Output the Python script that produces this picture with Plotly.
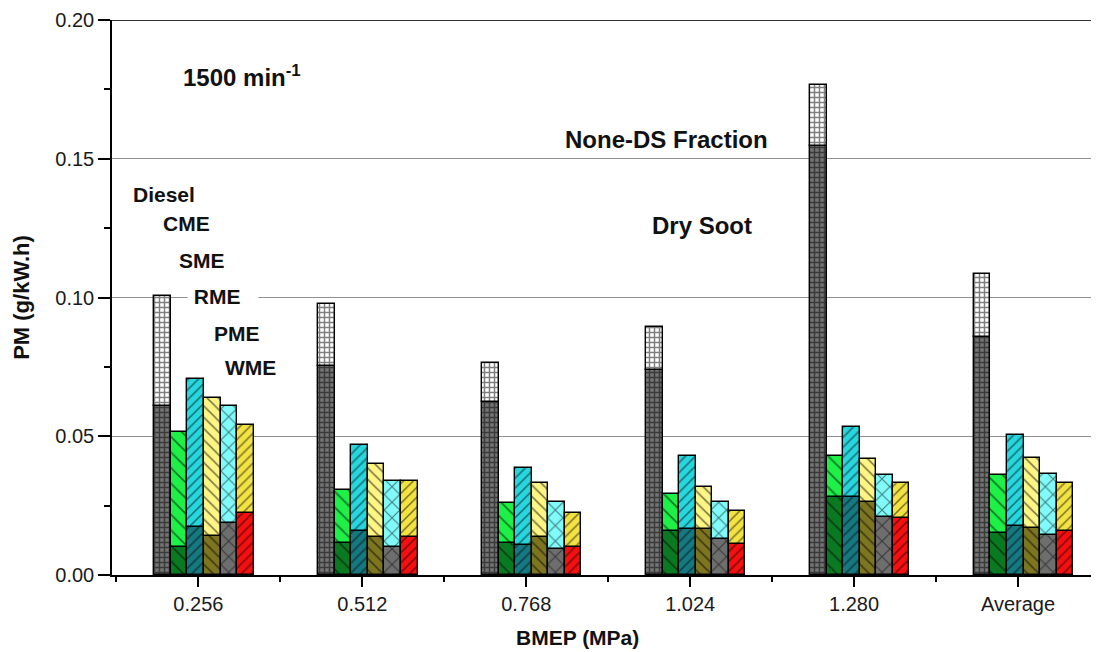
import plotly.graph_objects as go

categories = ["0.256", "0.512", "0.768", "1.024", "1.280", "Average"]
fuels = ["Diesel", "CME", "SME", "RME", "PME", "WME"]

# total PM (Dry Soot + None-DS Fraction), g/kW.h
total_diesel = [0.1007, 0.0975, 0.0765, 0.0893, 0.1765, 0.1083]
total_cme = [0.0516, 0.0308, 0.0258, 0.0293, 0.0428, 0.0362]
total_sme = [0.0706, 0.0470, 0.0386, 0.0429, 0.0534, 0.0504]
total_rme = [0.0639, 0.0399, 0.0330, 0.0317, 0.0418, 0.0423]
total_pme = [0.0609, 0.0337, 0.0264, 0.0263, 0.0359, 0.0363]
total_wme = [0.0540, 0.0339, 0.0222, 0.0229, 0.0333, 0.0333]

# Dry Soot portion
dry_diesel = [0.0608, 0.0752, 0.0624, 0.0740, 0.1547, 0.0857]
dry_cme = [0.0102, 0.0116, 0.0114, 0.0159, 0.0282, 0.0153]
dry_sme = [0.0174, 0.0157, 0.0108, 0.0164, 0.0282, 0.0176]
dry_rme = [0.0141, 0.0136, 0.0138, 0.0164, 0.0264, 0.0170]
dry_pme = [0.0188, 0.0100, 0.0094, 0.0128, 0.0210, 0.0144]
dry_wme = [0.0222, 0.0136, 0.0100, 0.0112, 0.0206, 0.0159]

totals = [total_diesel, total_cme, total_sme, total_rme, total_pme, total_wme]
drys = [dry_diesel, dry_cme, dry_sme, dry_rme, dry_pme, dry_wme]

# styles: (top colour, bottom colour, pattern shape, pattern size, solidity)
styles = [
    ("#ffffff", "#747474", "+", 5, 0.5),
    ("#1ef048", "#0a7a22", "\\", 11, 0.15),
    ("#28d6de", "#167880", "/", 7, 0.22),
    ("#fff585", "#7d7520", "\\", 8, 0.2),
    ("#80fafa", "#6e6e6e", "x", 11, 0.18),
    ("#f2e244", "#f41010", "/", 7, 0.22),
]

bar_w = 0.101
first_offset = -0.269

xpos = list(range(len(categories)))
fig = go.Figure()
for j, fuel in enumerate(fuels):
    top_c, bot_c, shp, sz, sol = styles[j]
    dry = drys[j]
    tot = totals[j]
    nonds = [t - d for t, d in zip(tot, dry)]
    off = first_offset + j * bar_w
    fig.add_trace(go.Bar(
        x=xpos, y=dry, base=0, width=bar_w, offset=off,
        name=fuel + " Dry Soot",
        marker=dict(color=bot_c, line=dict(color="black", width=1.4),
                    pattern=dict(shape=shp, size=sz, solidity=sol,
                                 fgcolor="black", bgcolor=bot_c, fillmode="overlay")),
        showlegend=False))
    fig.add_trace(go.Bar(
        x=xpos, y=nonds, base=dry, width=bar_w, offset=off,
        name=fuel + " None-DS Fraction",
        marker=dict(color=top_c, line=dict(color="black", width=1.4),
                    pattern=dict(shape=shp, size=sz, solidity=sol,
                                 fgcolor="black", bgcolor=top_c, fillmode="overlay")),
        showlegend=False))

ann_font = dict(family="Liberation Sans, Arial, sans-serif", size=21, color="#111111")
big_font = dict(family="Liberation Sans, Arial, sans-serif", size=24, color="#111111")

annotations = [
    dict(x=-0.106, y=0.180, text="<b>1500 min<sup>-1</sup></b>", xanchor="left", font=big_font),
    dict(x=2.853, y=0.157, text="<b>None-DS Fraction</b>", xanchor="center", font=big_font),
    dict(x=3.073, y=0.126, text="<b>Dry Soot</b>", xanchor="center", font=big_font),
    dict(x=-0.411, y=0.137, text="<b>Diesel</b>", xanchor="left", font=ann_font),
    dict(x=-0.228, y=0.1265, text="<b>CME</b>", xanchor="left", font=ann_font),
    dict(x=-0.130, y=0.1135, text="<b>SME</b>", xanchor="left", font=ann_font),
    dict(x=-0.070, y=0.1005, text="<b> RME   </b>", xanchor="left", font=ann_font,
         bgcolor="white", borderpad=0),
    dict(x=0.083, y=0.0872, text="<b>PME</b>", xanchor="left", font=ann_font),
    dict(x=0.150, y=0.0746, text="<b>WME</b>", xanchor="left", font=ann_font),
]
for a in annotations:
    a.update(xref="x", yref="y", showarrow=False, yanchor="middle")

# x-axis title (placed left of centre as in the original)
annotations.append(dict(xref="paper", yref="paper", x=0.472, y=0, yshift=-62,
                        xanchor="center", yanchor="middle", showarrow=False,
                        text="<b>BMEP (MPa)</b>",
                        font=dict(family="Liberation Sans, Arial, sans-serif", size=21,
                                  color="#111111")))

# page body adds an 8px margin; figure sized/margined to compensate
fig.update_layout(
    width=1091, height=644,
    margin=dict(l=104, r=0, t=12, b=77, autoexpand=False),
    paper_bgcolor="white", plot_bgcolor="white",
    barmode="overlay", bargap=0,
    annotations=annotations,
    font=dict(family="Liberation Sans, Arial, sans-serif", size=20, color="#1a1a1a"),
    shapes=[dict(type="line", xref="paper", yref="y", x0=0, x1=1, y0=0.2, y1=0.2,
                 line=dict(color="#333333", width=2), layer="above")],
)
fig.update_xaxes(
    type="linear", range=[-0.527, 5.494],
    tickmode="array", tickvals=xpos, ticktext=categories,
    ticks="outside", ticklen=10, tickwidth=1.5, tickcolor="black",
    showline=True, linecolor="black", linewidth=1.5,
    showgrid=False, zeroline=False,
    tickfont=dict(size=20, color="#1a1a1a"),
    minor=dict(tickmode="array", tickvals=[x + 0.5 for x in xpos[:-1]] + [-0.5],
               ticks="outside", ticklen=5, tickwidth=1.5, tickcolor="black", showgrid=False),
)
fig.update_yaxes(
    range=[0, 0.2], tickmode="linear", tick0=0, dtick=0.05, tickformat=".2f",
    ticks="outside", ticklen=12, tickwidth=1.5, tickcolor="black",
    showline=True, linecolor="black", linewidth=1.5,
    showgrid=True, gridcolor="#8f8f8f", gridwidth=1.4, zeroline=False,
    tickfont=dict(size=20, color="#1a1a1a"),
    minor=dict(dtick=0.025, tick0=0, ticks="outside", ticklen=6, tickwidth=1.5,
               tickcolor="black", showgrid=False),
    title=dict(text="<b>PM (g/kW.h)</b>", font=dict(size=22, color="#111111"), standoff=20),
)

fig.write_html("out.html")
